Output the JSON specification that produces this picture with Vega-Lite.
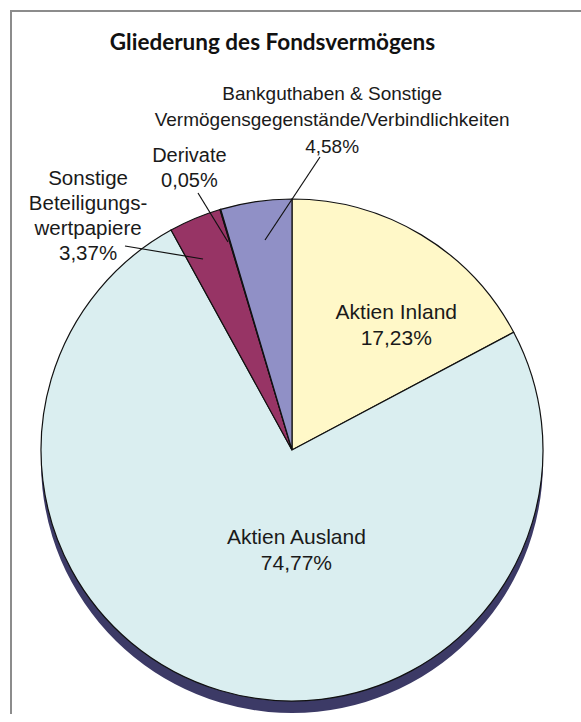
{
  "$schema": "https://vega.github.io/schema/vega-lite/v6.json",
  "width": 600,
  "height": 878,
  "autosize": "none",
  "padding": {"left": 11, "top": 11, "right": -30, "bottom": -175},
  "background": "white",
  "config": {
    "view": {"stroke": "#8c8c8c", "strokeWidth": 2},
    "text": {"font": "Liberation Sans", "color": "#1a1a1a"}
  },
  "title": {
    "text": "Gliederung des Fondsvermögens",
    "font": "Lato",
    "fontSize": 22.5,
    "fontWeight": "bold",
    "color": "#111111",
    "anchor": "middle",
    "dx": -38.5,
    "offset": -54,
    "baseline": "middle"
  },
  "datasets": {
    "slices": [
      {"idx": 1, "cat": "Aktien Inland", "value": 17.23, "label": ["Aktien Inland", "17,23%"]},
      {"idx": 2, "cat": "Aktien Ausland", "value": 74.77, "label": ["Aktien Ausland", "74,77%"]},
      {"idx": 3, "cat": "Sonstige Beteiligungswertpapiere", "value": 3.37, "label": ["Sonstige", "Beteiligungs-", "wertpapiere", "3,37%"]},
      {"idx": 4, "cat": "Derivate", "value": 0.05, "label": ["Derivate", "0,05%"]},
      {"idx": 5, "cat": "Bankguthaben & Sonstige Vermögensgegenstände/Verbindlichkeiten", "value": 4.58, "label": ["Bankguthaben & Sonstige", "Vermögensgegenstände/Verbindlichkeiten", "4,58%"]}
    ],
    "leaders": [
      {"cat": "Sonstige Beteiligungswertpapiere", "x": 114, "y": 235, "x2": 192, "y2": 248},
      {"cat": "Derivate", "x": 187, "y": 182, "x2": 217, "y2": 231},
      {"cat": "Bankguthaben", "x": 254, "y": 229, "x2": 309, "y2": 146}
    ]
  },
  "layer": [
    {
      "data": {"name": "slices"},
      "mark": {"type": "arc", "outerRadius": 251, "xOffset": -19, "yOffset": 12, "fill": "#3c3a66", "stroke": null},
      "encoding": {
        "theta": {"field": "value", "type": "quantitative", "stack": true},
        "order": {"field": "idx", "type": "quantitative"}
      }
    },
    {
      "data": {"name": "slices"},
      "mark": {"type": "arc", "outerRadius": 251, "xOffset": -19, "stroke": "#111111", "strokeWidth": 1.2},
      "encoding": {
        "theta": {"field": "value", "type": "quantitative", "stack": true},
        "order": {"field": "idx", "type": "quantitative"},
        "color": {
          "field": "cat",
          "type": "nominal",
          "legend": null,
          "scale": {
            "domain": ["Aktien Inland", "Aktien Ausland", "Sonstige Beteiligungswertpapiere", "Derivate", "Bankguthaben & Sonstige Vermögensgegenstände/Verbindlichkeiten"],
            "range": ["#fff8c8", "#daeef0", "#973465", "#336699", "#9090c6"]
          }
        }
      }
    },
    {
      "data": {"name": "leaders"},
      "mark": {"type": "rule", "color": "#111111", "strokeWidth": 1.2},
      "encoding": {
        "x": {"field": "x", "type": "quantitative", "axis": null, "scale": {"domain": [0, 600], "nice": false, "zero": false}},
        "x2": {"field": "x2"},
        "y": {"field": "y", "type": "quantitative", "axis": null, "scale": {"domain": [0, 878], "reverse": true, "nice": false, "zero": false}},
        "y2": {"field": "y2"}
      }
    },
    {
      "data": {"name": "slices"},
      "mark": {"type": "text", "font": "Liberation Sans", "radius": 150, "dx": 8, "dy": -8.5, "fontSize": 21, "lineHeight": 26.5, "align": "center", "baseline": "middle"},
      "encoding": {
        "theta": {"field": "value", "type": "quantitative", "stack": true},
        "order": {"field": "idx", "type": "quantitative"},
        "text": {"condition": {"test": "datum.idx === 1", "field": "label"}, "value": ""}
      }
    },
    {
      "data": {"name": "slices"},
      "mark": {"type": "text", "font": "Liberation Sans", "radius": 100, "dx": 14, "dy": -7.5, "fontSize": 21, "lineHeight": 25.5, "align": "center", "baseline": "middle"},
      "encoding": {
        "theta": {"field": "value", "type": "quantitative", "stack": true},
        "order": {"field": "idx", "type": "quantitative"},
        "text": {"condition": {"test": "datum.idx === 2", "field": "label"}, "value": ""}
      }
    },
    {
      "data": {"name": "slices"},
      "mark": {"type": "text", "font": "Liberation Sans", "radius": 300, "dx": -107, "dy": 6, "fontSize": 20.5, "lineHeight": 25, "align": "center", "baseline": "middle"},
      "encoding": {
        "theta": {"field": "value", "type": "quantitative", "stack": true},
        "order": {"field": "idx", "type": "quantitative"},
        "text": {"condition": {"test": "datum.idx === 3", "field": "label"}, "value": ""}
      }
    },
    {
      "data": {"name": "slices"},
      "mark": {"type": "text", "font": "Liberation Sans", "radius": 300, "dx": -36, "dy": -6.5, "fontSize": 20, "lineHeight": 25, "align": "center", "baseline": "middle"},
      "encoding": {
        "theta": {"field": "value", "type": "quantitative", "stack": true},
        "order": {"field": "idx", "type": "quantitative"},
        "text": {"condition": {"test": "datum.idx === 4", "field": "label"}, "value": ""}
      }
    },
    {
      "data": {"name": "slices"},
      "mark": {"type": "text", "font": "Liberation Sans", "radius": 320, "dx": 67, "dy": -39.5, "fontSize": 19, "lineHeight": 26.5, "align": "center", "baseline": "middle"},
      "encoding": {
        "theta": {"field": "value", "type": "quantitative", "stack": true},
        "order": {"field": "idx", "type": "quantitative"},
        "text": {"condition": {"test": "datum.idx === 5", "field": "label"}, "value": ""}
      }
    }
  ]
}
